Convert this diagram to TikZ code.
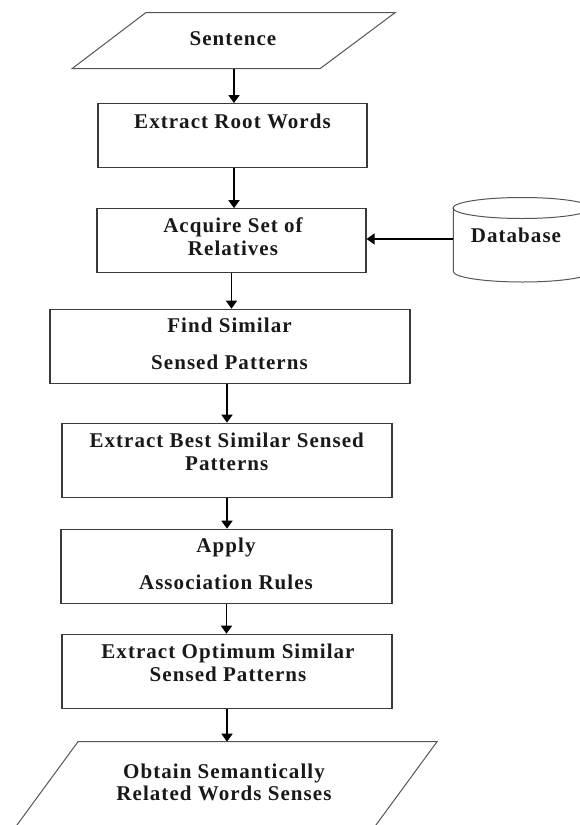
\documentclass[tikz,border=0pt]{standalone}
\usepackage{fontspec}
\setmainfont[LetterSpace=5,BoldFeatures={LetterSpace=5}]{Liberation Serif}
\usetikzlibrary{arrows.meta}
\definecolor{boxc}{HTML}{3A3A3A}
\definecolor{parc}{HTML}{555555}
\begin{document}
\begin{tikzpicture}[x=1pt,y=-1pt,
  box/.style={draw=boxc, line width=1.2pt, inner sep=0pt, minimum width=#1},
  arr/.style={draw=black, line width=1.6pt, -{Triangle[length=8pt,width=11pt]}},
  txt/.style={font=\fontsize{21}{23}\selectfont\bfseries, align=center, text=black!90, inner sep=0pt},
  par/.style={draw=parc, line width=1pt, line join=miter}]
\useasboundingbox (0,0) rectangle (580,825);
\clip (0,0) rectangle (580,825);
% Sentence (input parallelogram)
\draw[par] (145.7,12.7) -- (395,12.7) -- (320,68.7) -- (72,68.7) -- cycle;
\node[txt] (sent) at (233,38.5) {Sentence};
\coordinate (sentbot) at (234,68.7);
% process boxes
\node[box=269pt, minimum height=64pt] (root) at (232.5,135.7) {};
\node[txt] (troot) at (232.5,121) {Extract Root Words};
\node[box=269pt, minimum height=64pt] (acq) at (231.5,240.8) {};
\node[txt] (tacq) at (233,237) {Acquire Set of\\Relatives};
\node[box=360pt, minimum height=74pt] (find) at (230,346.3) {};
\node[txt] (tfind) at (229.5,344) {Find Similar\\[14pt]Sensed Patterns};
\node[box=330pt, minimum height=74.4pt] (best) at (227,460.5) {};
\node[txt] (tbest) at (226.7,452) {Extract Best Similar Sensed\\Patterns};
\node[box=331pt, minimum height=74pt] (apply) at (226.5,566.3) {};
\node[txt] (tapply) at (226,564) {Apply\\[14pt]Association Rules};
\node[box=330pt, minimum height=74pt] (opt) at (227,671.3) {};
\node[txt] (topt) at (228,662.5) {Extract Optimum Similar\\Sensed Patterns};
% output parallelogram (runs off the bottom edge)
\draw[par] (78,741.7) -- (437,741.7) -- (365,840) -- (6,840) -- cycle;
\node[txt] (tobt) at (224,782.5) {Obtain Semantically\\[-1pt]Related Words Senses};
\coordinate (obtop) at (226,741.7);
% database cylinder (cut by the right edge)
\draw[par] (522,208) ellipse [x radius=69, y radius=10.5];
\draw[par] (453.3,208) -- (453.3,271.5) arc [start angle=180, end angle=0, x radius=69, y radius=10.5] -- (591,208);
\node[txt] (db) at (516,235) {Database};
\coordinate (dbl) at (453.3,239);
% connectors
\draw[arr] (sentbot) -- (sentbot |- root.north);
\draw[arr] (sentbot |- root.south) -- (sentbot |- acq.north);
\draw[arr] (acq.south) -- (acq.south |- find.north);
\draw[arr] (best.north |- find.south) -- (best.north);
\draw[arr] (best.south) -- (best.south |- apply.north);
\draw[arr] (apply.south) -- (apply.south |- opt.north);
\draw[arr] (opt.south) -- (opt.south |- obtop);
\draw[arr] (dbl) -- (dbl -| acq.east);
\end{tikzpicture}
\end{document}
